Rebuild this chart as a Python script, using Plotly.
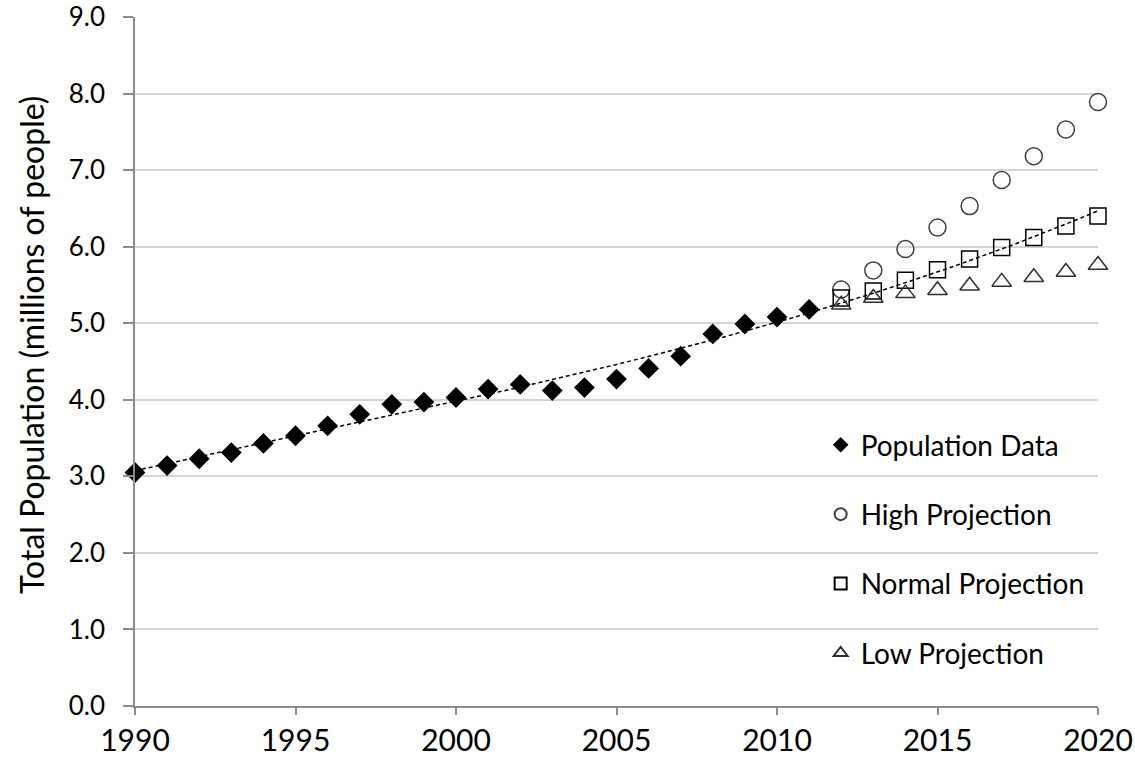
import numpy as np
import plotly.graph_objects as go

# Observed population (millions), 1990-2011
data_years = list(range(1990, 2012))
data_pop = [3.05, 3.14, 3.23, 3.31, 3.43, 3.53, 3.66, 3.81, 3.94, 3.97,
            4.03, 4.14, 4.20, 4.12, 4.16, 4.27, 4.41, 4.57, 4.86, 4.99,
            5.08, 5.18]

# Projection scenarios, 2012-2020
proj_years = list(range(2012, 2021))
high_proj = [5.44, 5.69, 5.97, 6.25, 6.53, 6.87, 7.18, 7.53, 7.89]
normal_proj = [5.33, 5.42, 5.56, 5.70, 5.84, 5.99, 6.12, 6.27, 6.40]
low_proj = [5.24, 5.33, 5.39, 5.43, 5.49, 5.54, 5.60, 5.67, 5.76]

y_ticks = [0, 1, 2, 3, 4, 5, 6, 7, 8, 9]
x_ticks = [1990, 1995, 2000, 2005, 2010, 2015, 2020]

# Polynomial trendline through observed data + normal projection
fit_x = np.array(data_years + proj_years, dtype=float)
fit_y = np.array(data_pop + normal_proj, dtype=float)
coef = np.polyfit(fit_x - 1990, fit_y, 3)
trend_x = np.linspace(1990, 2020, 121)
trend_y = np.polyval(coef, trend_x - 1990)

FONT = "Lato"

fig = go.Figure()

fig.add_trace(go.Scatter(
    x=trend_x, y=trend_y, mode="lines",
    line=dict(color="black", width=1.5, dash="4px,3px"),
    showlegend=False, hoverinfo="skip", cliponaxis=False,
))

fig.add_trace(go.Scatter(
    x=data_years, y=data_pop, mode="markers", name="Population Data",
    legendgroup="a",
    marker=dict(symbol="diamond", size=16, color="black",
                line=dict(width=0)),
    cliponaxis=False,
))
fig.add_trace(go.Scatter(
    x=proj_years, y=high_proj, mode="markers", name="High Projection",
    legendgroup="b",
    marker=dict(symbol="circle-open", size=17, color="#404040",
                line=dict(width=1.5, color="#404040")),
    cliponaxis=False,
))
fig.add_trace(go.Scatter(
    x=proj_years, y=normal_proj, mode="markers", name="Normal Projection",
    legendgroup="c",
    marker=dict(symbol="square-open", size=16, color="black",
                line=dict(width=1.5, color="black")),
    cliponaxis=False,
))
fig.add_trace(go.Scatter(
    x=proj_years, y=low_proj, mode="markers", name="Low Projection",
    legendgroup="d",
    marker=dict(symbol="triangle-up-open", size=17, color="#303030",
                line=dict(width=1.5, color="#303030")),
    cliponaxis=False,
))

# y-axis title
fig.add_annotation(
    text="Total Population (millions of people)",
    xref="paper", yref="paper", x=-0.107, y=0.524,
    xanchor="center", yanchor="middle", textangle=-90,
    showarrow=False, font=dict(family=FONT, size=32, color="black"),
)

fig.update_layout(
    width=1135, height=761,
    margin=dict(l=135, r=37, t=17, b=55),
    paper_bgcolor="white", plot_bgcolor="white",
    font=dict(family=FONT, size=26, color="black"),
    legend=dict(
        x=0.712, y=0.415, xanchor="left", yanchor="top",
        bgcolor="rgba(0,0,0,0)", borderwidth=0,
        font=dict(family=FONT, size=28, color="black"),
        tracegroupgap=30, itemsizing="constant", itemwidth=30,
    ),
    xaxis=dict(
        range=[1990, 2020], tickvals=x_ticks, automargin=False,
        showgrid=False, zeroline=False,
        showline=True, linecolor="#8c8c8c", linewidth=1.5,
        ticks="outside", ticklen=7, tickcolor="#8c8c8c", tickwidth=1.5,
        tickfont=dict(family=FONT, size=30),
        ticklabeloverflow="allow",
    ),
    yaxis=dict(
        range=[0, 9], tickvals=y_ticks, tickformat=".1f", automargin=False,
        showgrid=True, gridcolor="#d4d4d4", gridwidth=1.5,
        zeroline=False,
        showline=True, linecolor="#8c8c8c", linewidth=1.5,
        ticks="outside", ticklen=10, tickcolor="#8c8c8c", tickwidth=1.5,
        tickfont=dict(family=FONT, size=26),
        ticklabelstandoff=13, ticklabeloverflow="allow",
    ),
)

fig.write_html("out.html")
